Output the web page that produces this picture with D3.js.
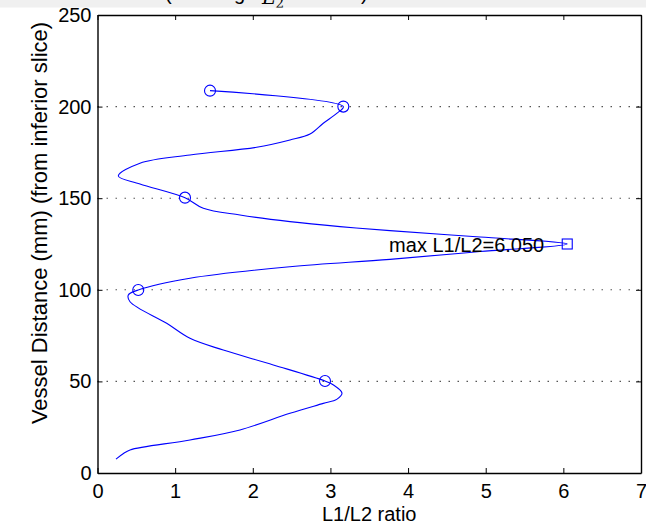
<!DOCTYPE html>
<html>
<head>
<meta charset="utf-8">
<script src="https://cdnjs.cloudflare.com/ajax/libs/d3/7.8.5/d3.min.js"></script>
<style>
  body { margin: 0; background: #fff; }
  svg { display: block; font-family: "Liberation Sans", Arial, sans-serif; }
</style>
</head>
<body>
<svg id="chart" width="646" height="527"></svg>
<script>
// curve traced along the vessel, from inferior end to superior end
var ratio = [0.238, 0.33, 0.419, 1.191, 1.835, 2.479, 2.908, 3.081, 3.149, 3.04, 2.930,
             2.264, 1.620, 1.191, 0.891, 0.419, 0.397, 0.525, 1.191, 2.479, 3.767, 4.927,
             6.05, 4.927, 3.767, 3.123, 2.479, 1.835, 1.363, 1.127, 0.547, 0.268, 0.547,
             1.191, 2.050, 2.479, 2.737, 2.908, 3.081, 3.166, 1.449];
var distance = [7.6, 10.5, 12.6, 18.0, 23.5, 32.6, 38.0, 40.2, 43.6, 48.0, 50.2,
                59.0, 67.1, 73.5, 81.7, 93.5, 97.2, 99.9, 106.3, 112.6, 116.6, 120.9,
                125.0, 128.8, 132.3, 134.5, 137.2, 140.8, 144.5, 150.3, 157.8, 162.1, 169.1,
                173.6, 177.8, 181.8, 185.0, 190.9, 196.3, 200.0, 208.7];

var markRatio = [2.930, 0.525, 1.127, 3.166, 1.449];
var markDistance = [50.2, 99.9, 150.3, 200.0, 208.7];

var maxRatio = 6.05;
var maxDistance = 125.0;

var xTicks = [0, 1, 2, 3, 4, 5, 6, 7];
var yTicks = [0, 50, 100, 150, 200, 250];
var gridTicks = [50, 100, 150, 200];

var plotLeft = 97.5, plotRight = 641, plotTop = 15, plotBottom = 473;

var svg = d3.select("#chart");

// cut-off title band
svg.append("rect").attr("x", 0).attr("y", 0).attr("width", 646).attr("height", 7.5)
    .attr("fill", "#f0f0f0");
svg.append("clipPath").attr("id", "band")
    .append("rect").attr("x", 0).attr("y", 0).attr("width", 646).attr("height", 7.5);
var title = svg.append("g").attr("clip-path", "url(#band)").attr("font-size", 20);
title.append("text").attr("x", 165).attr("y", 0).text("(ordering");
var den = title.append("text").attr("x", 262).attr("y", 4)
    .attr("font-family", "DejaVu Serif, serif").attr("font-style", "italic");
den.append("tspan").text("L");
den.append("tspan").attr("font-size", 14).attr("dy", 4).attr("font-style", "normal").text("2");
title.append("text").attr("x", 361).attr("y", 0).text(")");

var x = d3.scaleLinear().domain([0, 7]).range([plotLeft, plotRight]);
var y = d3.scaleLinear().domain([0, 250]).range([plotBottom, plotTop]);

// grid
svg.append("g").selectAll("line").data(gridTicks).enter().append("line")
    .attr("x1", plotLeft).attr("x2", plotRight)
    .attr("y1", d => y(d)).attr("y2", d => y(d))
    .attr("stroke", "#555").attr("stroke-width", 1.1)
    .attr("stroke-dasharray", "1.5,7.5");

function styleAxis(g) {
    g.select(".domain").attr("stroke", "#000").attr("stroke-width", 1.4);
    g.selectAll(".tick line").attr("stroke", "#000");
    g.selectAll("text").attr("font-size", 20).attr("fill", "#000")
        .attr("font-family", "Liberation Sans, Arial, sans-serif");
}

svg.append("g").attr("transform", "translate(0," + plotBottom + ")")
    .call(d3.axisBottom(x).tickValues(xTicks).tickFormat(d3.format("d"))
        .tickSizeInner(-5).tickSizeOuter(0).tickPadding(10.5))
    .call(styleAxis);
svg.append("g").attr("transform", "translate(0," + plotTop + ")")
    .call(d3.axisTop(x).tickValues(xTicks).tickFormat("")
        .tickSizeInner(-5).tickSizeOuter(0))
    .call(styleAxis);
svg.append("g").attr("transform", "translate(" + plotLeft + ",0)")
    .call(d3.axisLeft(y).tickValues(yTicks).tickFormat(d3.format("d"))
        .tickSizeInner(-5).tickSizeOuter(0).tickPadding(6))
    .call(styleAxis);
svg.append("g").attr("transform", "translate(" + plotRight + ",0)")
    .call(d3.axisRight(y).tickValues(yTicks).tickFormat("")
        .tickSizeInner(-5).tickSizeOuter(0))
    .call(styleAxis);

// curve
var pts = ratio.map((r, i) => [r, distance[i]]);
var line = d3.line().x(d => x(d[0])).y(d => y(d[1]))
    .curve(d3.curveCatmullRom.alpha(0.5));
svg.append("path").datum(pts).attr("d", line)
    .attr("fill", "none").attr("stroke", "#0000ff").attr("stroke-width", 1.1);

// markers
svg.append("g").selectAll("circle").data(markRatio).enter().append("circle")
    .attr("cx", d => x(d)).attr("cy", (d, i) => y(markDistance[i])).attr("r", 5.5)
    .attr("fill", "none").attr("stroke", "#0000ff").attr("stroke-width", 1.1);

svg.append("rect")
    .attr("x", x(maxRatio) - 5).attr("y", y(maxDistance) - 5)
    .attr("width", 10).attr("height", 10)
    .attr("fill", "none").attr("stroke", "#0000ff").attr("stroke-width", 1.1);

svg.append("text")
    .attr("x", x(maxRatio) - 23).attr("y", y(maxDistance) + 8)
    .attr("text-anchor", "end").attr("font-size", 20)
    .text("max L1/L2=" + maxRatio.toFixed(3));

// axis labels
svg.append("text").attr("x", (plotLeft + plotRight) / 2).attr("y", 521)
    .attr("text-anchor", "middle").attr("font-size", 20).text("L1/L2 ratio");
svg.append("text").attr("transform", "translate(46.5,223) rotate(-90)")
    .attr("text-anchor", "middle").attr("font-size", 22)
    .text("Vessel Distance (mm) (from inferior slice)");
</script>
</body>
</html>
